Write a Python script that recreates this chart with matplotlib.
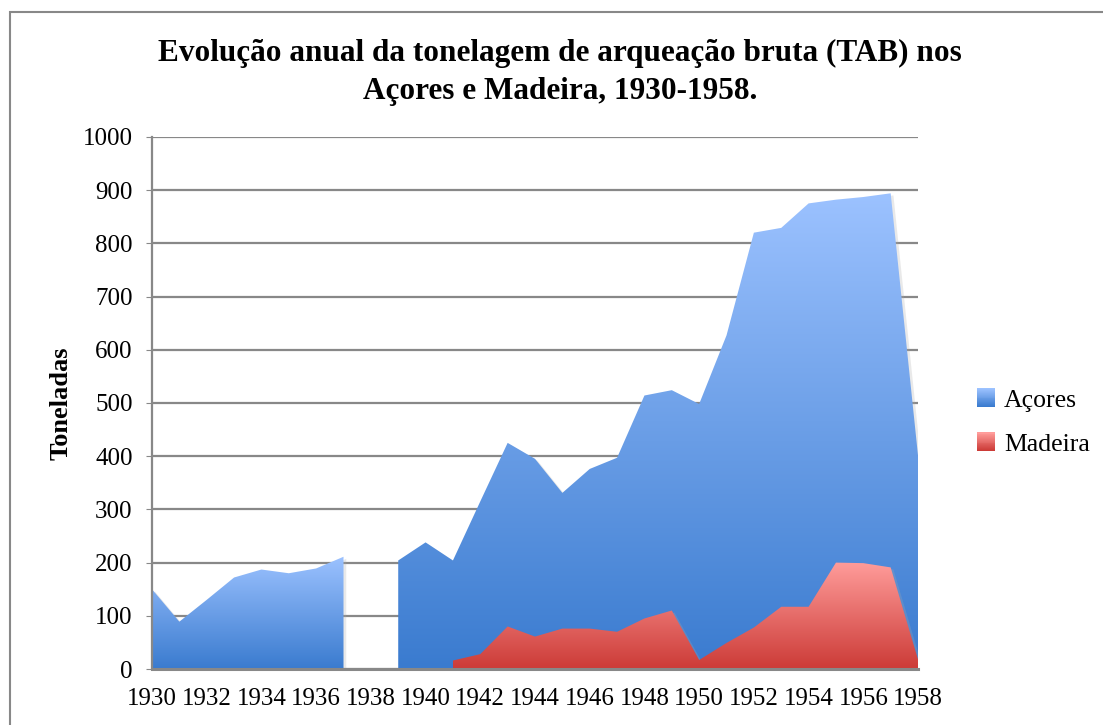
"""
Evolução anual da TAB nos Açores e Madeira, 1930-1958 (gráfico de áreas)
"""
import matplotlib
matplotlib.use("Agg")
import matplotlib.pyplot as plt
import matplotlib.patheffects as pe
from matplotlib.colors import LinearSegmentedColormap
from matplotlib.patches import Rectangle
from matplotlib.legend_handler import HandlerBase
import numpy as np

plt.rcParams['font.family'] = ['Liberation Serif', 'DejaVu Serif']

# dados (NaN = sem valor)
anos = list(range(1930, 1959))
acores = [150, 89, 130, 172, 187, 180, 189, 211, np.nan, 204,
          238, 204, 315, 425, 395, 331, 376, 397, 514, 524,
          498, 627, 820, 829, 875, 882, 887, 894, 401]
madeira = [np.nan] * 11 + [16, 28, 80, 61, 76, 76, 70, 95, 110,
                           17, 49, 78, 117, 117, 200, 199, 191, 18]
series = ['Açores', 'Madeira']
yticks = list(range(0, 1001, 100))
xticks = list(range(1930, 1959, 2))

# gradientes (escuro em baixo, claro em cima)
cmaps = {
    'Açores': LinearSegmentedColormap.from_list('az', ['#3a7bcf', '#9cc2ff']),
    'Madeira': LinearSegmentedColormap.from_list('vm', ['#cc3b37', '#ff9c9a']),
}

fig = plt.figure(figsize=(11.03, 7.25), dpi=100)
ax = fig.add_axes([0.1378, 0.0772, 0.6945, 0.734])

x = np.array(anos, dtype=float)
grad = np.linspace(0, 1, 256).reshape(-1, 1)


def area_gradiente(vals, cmap, z):
    """desenha cada troço contínuo com o seu próprio gradiente"""
    v = np.array(vals, dtype=float)
    ok = ~np.isnan(v)
    i = 0
    while i < len(v):
        if not ok[i]:
            i += 1
            continue
        j = i
        while j + 1 < len(v) and ok[j + 1]:
            j += 1
        xs, ys = x[i:j + 1], v[i:j + 1]
        poly = ax.fill_between(xs, 0, ys, facecolor='white', edgecolor='none',
                               zorder=z,
                               path_effects=[pe.SimplePatchShadow(offset=(2, -1.5),
                                                                  shadow_rgbFace='#aaaaaa',
                                                                  alpha=0.25)])
        img = ax.imshow(grad, cmap=cmap, origin='lower', aspect='auto',
                        extent=(xs[0], xs[-1], 0, ys.max()), zorder=z + 0.1,
                        interpolation='bilinear')
        img.set_clip_path(poly.get_paths()[0], transform=ax.transData)
        i = j + 1


area_gradiente(acores, cmaps['Açores'], 2)
area_gradiente(madeira, cmaps['Madeira'], 3)

ax.set_xlim(1930, 1958)
ax.set_ylim(0, 1000)
ax.set_yticks(yticks)
ax.set_xticks(xticks)
ax.tick_params(axis='x', length=0, labelsize=18, pad=14)
ax.tick_params(axis='y', length=4, color='#888888', labelsize=18, pad=10)
ax.yaxis.grid(True, color='#888888', linewidth=1.6)
ax.set_axisbelow(True)
for s in ['top', 'right']:
    ax.spines[s].set_visible(False)
ax.spines['left'].set_color('#888888')
ax.spines['left'].set_linewidth(1.6)
ax.spines['bottom'].set_color('#888888')
ax.spines['bottom'].set_linewidth(2.2)
ax.spines['bottom'].set_zorder(5)
ax.set_ylabel('Toneladas', fontsize=19, fontweight='bold')
ax.yaxis.set_label_coords(-0.104, 0.5)


class HandlerGradiente(HandlerBase):
    def __init__(self, cmap):
        super().__init__()
        self.cmap = cmap

    def create_artists(self, legend, orig_handle, xdescent, ydescent,
                       width, height, fontsize, trans):
        n = 20
        lado = height * 1.0
        x0 = (width - lado) / 2 - xdescent
        arts = []
        for k in range(n):
            r = Rectangle((x0, -ydescent + lado * k / n), lado, lado / n + 0.3,
                          facecolor=self.cmap(k / (n - 1)), edgecolor='none',
                          transform=trans)
            arts.append(r)
        return arts


handles = [Rectangle((0, 0), 1, 1) for _ in series]
leg = ax.legend(handles, series, loc='center left', bbox_to_anchor=(1.047, 0.464),
                frameon=False, fontsize=18.5, handlelength=0.7, handleheight=0.7,
                handletextpad=0.35, labelspacing=0.82,
                handler_map={h: HandlerGradiente(cmaps[s]) for h, s in zip(handles, series)})

fig.text(0.508, 0.9, 'Evolução anual da tonelagem de arqueação bruta (TAB) nos\n'
         'Açores e Madeira, 1930-1958.', ha='center', va='center',
         fontsize=22.5, fontweight='bold', linespacing=1.4)

# moldura do gráfico
fig.patches.append(Rectangle((10 / 1103, -0.05), 1.2, 1 - 12 / 725 + 0.05,
                             transform=fig.transFigure, fill=False,
                             edgecolor='#888888', linewidth=1.5))

fig.savefig('out.png', dpi=100)
